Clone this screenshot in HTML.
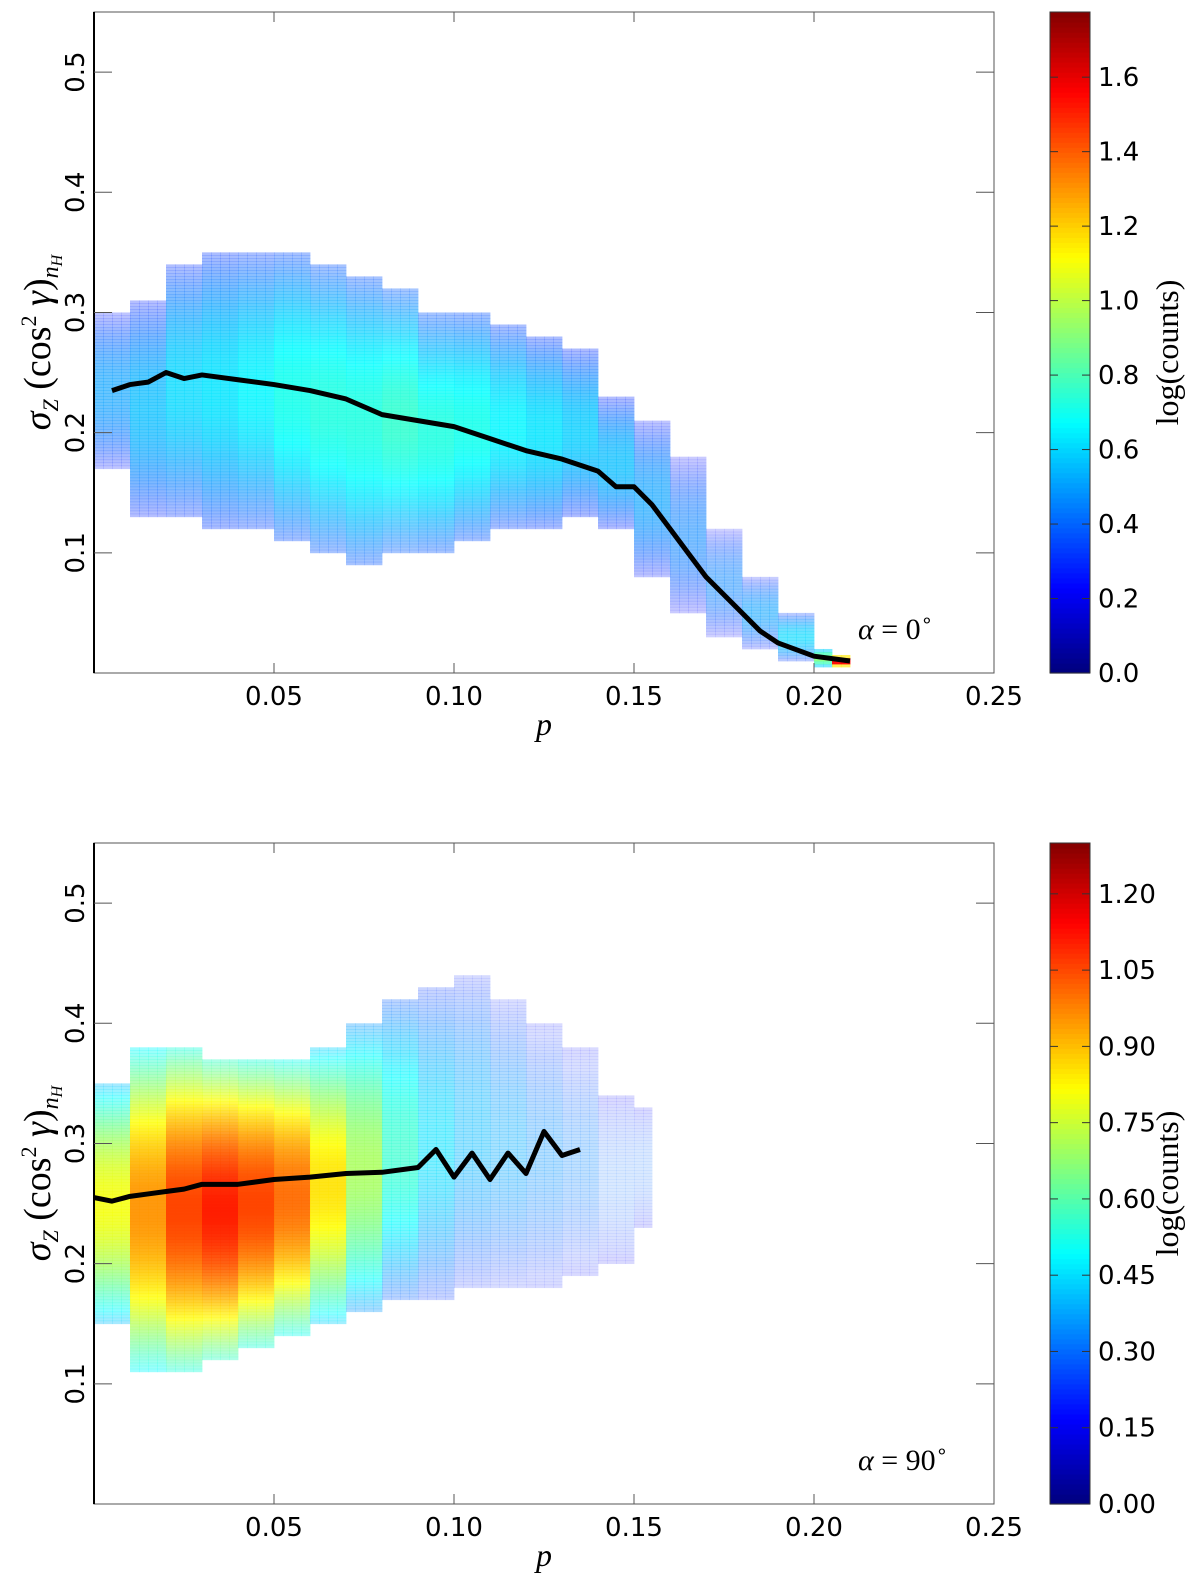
<!DOCTYPE html>
<html><head><meta charset="utf-8"><style>
body{margin:0;background:#fff;}
svg{display:block;font-family:"DejaVu Sans","Liberation Sans",sans-serif;}
</style></head><body>
<svg id="fig" width="1200" height="1575" viewBox="0 0 1200 1575"></svg>
<script>
// ---- data: top panel (alpha=0) ----
const topCols = [0.000,0.010,0.020,0.030,0.040,0.050,0.060,0.070,0.080,0.090,0.100,0.110,0.120,0.130,0.140,0.150,0.160,0.170,0.180,0.190,0.200,0.205];
const topLow  = [0.17,0.13,0.13,0.12,0.12,0.11,0.10,0.09,0.10,0.10,0.11,0.12,0.12,0.13,0.12,0.08,0.05,0.03,0.02,0.01,0.005,0.005];
const topHigh = [0.30,0.31,0.34,0.35,0.35,0.35,0.34,0.33,0.32,0.30,0.30,0.29,0.28,0.27,0.23,0.21,0.18,0.12,0.08,0.05,0.02,0.015];
const topCore = [0.5,0.55,0.6,0.62,0.65,0.7,0.72,0.72,0.75,0.72,0.7,0.65,0.62,0.58,0.55,0.5,0.45,0.45,0.5,0.6,0.9,1.6];
const topFill = [0.6,0.7,0.75,0.8,0.8,0.85,0.85,0.85,0.85,0.85,0.85,0.8,0.8,0.75,0.7,0.6,0.5,0.45,0.5,0.6,0.9,1.0];
const topMeanP = [0.005,0.01,0.015,0.02,0.025,0.03,0.04,0.05,0.06,0.07,0.08,0.09,0.10,0.11,0.12,0.13,0.14,0.145,0.15,0.155,0.16,0.165,0.17,0.175,0.18,0.185,0.19,0.20,0.21];
const topMeanY = [0.235,0.24,0.242,0.25,0.245,0.248,0.244,0.24,0.235,0.228,0.215,0.21,0.205,0.195,0.185,0.178,0.168,0.155,0.155,0.14,0.12,0.1,0.08,0.065,0.05,0.035,0.025,0.014,0.01];
// ---- data: bottom panel (alpha=90) ----
const botCols = [0.000,0.010,0.020,0.030,0.040,0.050,0.060,0.070,0.080,0.090,0.100,0.110,0.120,0.130,0.140,0.150];
const botLow  = [0.15,0.11,0.11,0.12,0.13,0.14,0.15,0.16,0.17,0.17,0.18,0.18,0.18,0.19,0.20,0.23];
const botHigh = [0.35,0.38,0.38,0.37,0.37,0.37,0.38,0.40,0.42,0.43,0.44,0.42,0.40,0.38,0.34,0.33];
const botCore = [0.8,0.95,1.05,1.1,1.05,1.0,0.85,0.7,0.55,0.45,0.4,0.38,0.35,0.33,0.3,0.3];
const botFill = [0.85,0.95,1.0,1.0,1.0,0.95,0.9,0.8,0.65,0.5,0.4,0.35,0.3,0.25,0.15,0.08];
const botMeanP = [0.0,0.005,0.01,0.015,0.02,0.025,0.03,0.04,0.05,0.06,0.07,0.08,0.09,0.095,0.10,0.105,0.11,0.115,0.12,0.125,0.13,0.135];
const botMeanY = [0.255,0.252,0.256,0.258,0.26,0.262,0.266,0.266,0.27,0.272,0.275,0.276,0.28,0.295,0.272,0.292,0.27,0.292,0.275,0.31,0.29,0.295];
const xTicks = [0.05,0.10,0.15,0.20,0.25];
const yTicks = [0.1,0.2,0.3,0.4,0.5];
const cbTop = [0.0,0.2,0.4,0.6,0.8,1.0,1.2,1.4,1.6];
const cbBot = [0.00,0.15,0.30,0.45,0.60,0.75,0.90,1.05,1.20];

const NS="http://www.w3.org/2000/svg";
const svg=document.getElementById('fig');
function mk(tag,attrs,parent){const e=document.createElementNS(NS,tag);for(const k in attrs)e.setAttribute(k,attrs[k]);(parent||svg).appendChild(e);return e;}
function jet(t){t=Math.max(0,Math.min(1,t));
 const r=Math.max(0,Math.min(1,1.5-Math.abs(4*t-3))),g=Math.max(0,Math.min(1,1.5-Math.abs(4*t-2))),b=Math.max(0,Math.min(1,1.5-Math.abs(4*t-1)));
 return `rgb(${Math.round(r*255)},${Math.round(g*255)},${Math.round(b*255)})`;}

function panel(o){
 const X0=94,X1=994,Y0=o.top,Y1=o.top+661;
 const sx=p=>X0+p/0.25*(X1-X0);
 const sy=v=>Y1-v/0.55*(Y1-Y0);
 const g=mk('g',{});
 
 
 const hm=mk('g',{},g);
 
 
 o.cols.forEach((c,i)=>{
  const next=i<o.cols.length-1?o.cols[i+1]:c+0.005;
  for(let p=c;p<next-1e-9;p+=0.0025){
   const lo=o.low[i],hi=o.high[i],mid=(lo+hi)/2,half=(hi-lo)/2||0.005;
   for(let v=lo;v<hi-1e-9;v+=0.0025){
    const d=Math.abs(v+0.00125-mid)/half;
    const val=o.core[i]*(1-0.5*d*d);
    const op=Math.max(0.15,o.fill[i]*(1-0.6*d*d));
    const r=mk('rect',{x:sx(p),y:sy(v+0.0025),width:sx(0.0025)-sx(0)+0.4,height:sy(0)-sy(0.0025)+0.4,fill:jet(val/o.vmax),'fill-opacity':op.toFixed(2)},hm);
    
    
   }
  }
 });
 const pts=o.mp.map((p,i)=>sx(p)+','+sy(o.my[i])).join(' ');
 const ln=mk('polyline',{points:pts,fill:'none',stroke:'#000','stroke-width':5,'stroke-linejoin':'round'},g);
 
 
 const fr=mk('rect',{x:X0,y:Y0,width:X1-X0,height:Y1-Y0,fill:'none',stroke:'#555','stroke-width':1},g);
 
 
 mk('line',{x1:X0,y1:Y0,x2:X0,y2:Y1,stroke:'#000','stroke-width':2},g);
 xTicks.forEach(t=>{
  mk('line',{x1:sx(t),y1:Y1,x2:sx(t),y2:Y1-10,stroke:'#555'},g);
  mk('line',{x1:sx(t),y1:Y0,x2:sx(t),y2:Y0+10,stroke:'#555'},g);
  const tx=mk('text',{x:sx(t),y:Y1+32,'font-size':26,'text-anchor':'middle',fill:'#000'},g);
  tx.textContent=t.toFixed(2);
  
  
 });
 yTicks.forEach(t=>{
  mk('line',{x1:X0,y1:sy(t),x2:X0+18,y2:sy(t),stroke:'#555'},g);
  mk('line',{x1:X1,y1:sy(t),x2:X1-18,y2:sy(t),stroke:'#555'},g);
  const tx=mk('text',{x:0,y:0,'font-size':26,'text-anchor':'middle',fill:'#000',transform:`translate(84,${sy(t)}) rotate(-90)`},g);
  tx.textContent=t.toFixed(1);
  
  
 });
 const xl=mk('text',{x:544,y:Y1+62,'font-size':32,'font-style':'italic','font-family':'Liberation Serif,serif','text-anchor':'middle'},g);
 xl.textContent='p';
 
 
 const yl=mk('text',{x:0,y:0,'font-size':38,'font-family':'Liberation Serif,serif','text-anchor':'middle',transform:`translate(50,${(Y0+Y1)/2}) rotate(-90)`},g);
 yl.innerHTML='<tspan font-style="italic">σ</tspan><tspan font-size="22" dy="8" font-style="italic">Z</tspan><tspan dy="-8"> (cos</tspan><tspan font-size="22" dy="-14">2</tspan><tspan dy="14"> </tspan><tspan font-style="italic">γ</tspan><tspan>)</tspan><tspan font-size="24" dy="8" font-style="italic">n</tspan><tspan font-size="16" dy="4" font-style="italic">H</tspan>';
 
 
 const an=mk('text',{x:858,y:Y1-34,'font-size':30,'font-family':'Liberation Serif,serif'},g);
 an.innerHTML='<tspan font-style="italic">α</tspan> = '+o.alpha+'<tspan font-size="20" dy="-12">∘</tspan>';
 
 
 // colorbar
 const cb=mk('g',{},g);
 
 
 const CX=1050,CW=40;
 for(let k=0;k<132;k++){
  const t0=k/132;
  mk('rect',{x:CX,y:Y1-(k+1)*(Y1-Y0)/132,width:CW,height:(Y1-Y0)/132+0.6,fill:jet(t0)},cb);
 }
 mk('rect',{x:CX,y:Y0,width:CW,height:Y1-Y0,fill:'none',stroke:'#333'},cb);
 o.cbt.forEach(t=>{
  const yy=Y1-t/o.vmax*(Y1-Y0);
  mk('line',{x1:CX,y1:yy,x2:CX+8,y2:yy,stroke:'#333'},cb);
  mk('line',{x1:CX+CW,y1:yy,x2:CX+CW-8,y2:yy,stroke:'#333'},cb);
  const tx=mk('text',{x:CX+CW+8,y:yy+9,'font-size':26},cb);
  tx.textContent=t.toFixed(o.dec);
  
  
 });
 const cl=mk('text',{x:0,y:0,'font-size':32,'font-family':'Liberation Serif,serif','text-anchor':'middle',transform:`translate(1178,${(Y0+Y1)/2+10}) rotate(-90)`},cb);
 cl.textContent='log(counts)';
 
 
}
panel({name:'top-panel',top:12,cols:topCols,low:topLow,high:topHigh,core:topCore,fill:topFill,mp:topMeanP,my:topMeanY,vmax:1.775,cbt:cbTop,dec:1,alpha:'0'});
panel({name:'bottom-panel',top:843,cols:botCols,low:botLow,high:botHigh,core:botCore,fill:botFill,mp:botMeanP,my:botMeanY,vmax:1.30,cbt:cbBot,dec:2,alpha:'90'});
</script>
</body></html>
